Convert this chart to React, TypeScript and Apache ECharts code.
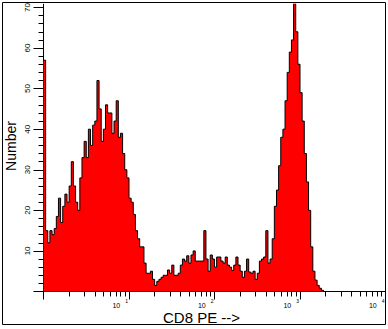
import React, { useEffect, useRef } from 'react';
import * as echarts from 'echarts';

// Histogram: 40 channels per decade over 10^0 .. 10^4 (160 channels)
const CHANNELS_PER_DECADE = 40;
const counts: number[] = [
  57, 15, 12, 15, 14, 15.5, 18.5, 23, 17, 21,
  24, 22, 26, 32, 26, 22, 20, 28, 33, 37,
  33, 40, 36, 41, 42, 52, 45, 37, 40, 46,
  44, 44, 39, 42, 47, 38, 39, 34, 30, 28,
  23, 22, 19, 15, 13, 11, 11, 7, 4.5, 4.5,
  5, 3, 1.5, 2.5, 3, 3.5, 4, 4, 5.3, 4.5,
  6.5, 4, 4, 4.5, 6.5, 8, 7.5, 8.8, 7, 9,
  10, 7.5, 7.5, 7.5, 7.5, 15, 8, 5, 9, 8,
  6, 8.5, 8.5, 7.5, 7, 8.5, 6.5, 6, 5.2, 6.5,
  8.5, 6.5, 5, 3.5, 5, 8, 4.8, 4.5, 5, 3,
  4.5, 7.5, 8, 8.5, 15, 7, 8, 13, 21, 25,
  31, 38, 40, 47, 54, 59, 62, 71, 64, 56,
  49, 42, 34, 27, 20, 11, 5, 2.8, 1.5, 0.8,
  0.3, 0, 0, 0, 0, 0, 0, 0, 0, 0,
  0, 0, 0, 0, 0, 0, 0, 0, 0, 0,
  0, 0, 0, 0, 0, 0, 0, 0, 0, 0,
];

const yMajorTicks = [0, 10, 20, 30, 40, 50, 60, 70];
const yLabelTicks = [10, 20, 30, 40, 50, 60, 70];
const yMinorTicks = [2, 4, 6, 8, 12, 14, 16, 18, 22, 24, 26, 28, 32, 34, 36, 38, 42, 44, 46, 48, 52, 54, 56, 58, 62, 64, 66, 68];
const xMajorTicks = [1, 10, 100, 1000, 10000];
const xLabelTicks = [10, 100, 1000, 10000];
const xMinorTicks = [
  2, 3, 4, 5, 6, 7, 8, 9,
  20, 30, 40, 50, 60, 70, 80, 90,
  200, 300, 400, 500, 600, 700, 800, 900,
  2000, 3000, 4000, 5000, 6000, 7000, 8000, 9000,
];

const FONT = "'Liberation Sans', Arial, sans-serif";

export default function App() {
  const ref = useRef<HTMLDivElement>(null);
  useEffect(() => {
    if (!ref.current) return;
    const chart = echarts.init(ref.current, undefined, { renderer: 'svg' });
    const data: [number, number][] = counts.map((c, i) => [Math.pow(10, i / CHANNELS_PER_DECADE), c]);
    data.push([Math.pow(10, counts.length / CHANNELS_PER_DECADE), 0]);
    const axisLineStyle = { color: '#000', width: 1 };
    chart.setOption({
      animation: false,
      backgroundColor: '#fff',
      grid: { left: 43.5, right: 2.5, top: 2.5, bottom: 37.5, containLabel: false },
      xAxis: [
        {
          type: 'log', logBase: 10, min: 1, max: 10000, position: 'bottom',
          axisLine: { show: true, lineStyle: axisLineStyle },
          axisTick: { show: true, customValues: xMajorTicks, length: 8, lineStyle: axisLineStyle },
          axisLabel: {
            show: true, customValues: xLabelTicks, margin: 7, align: 'right',
            formatter: (v: number) => `{a|10}{b|${Math.round(Math.log10(v))}}`,
            rich: {
              a: { fontSize: 7, fontFamily: FONT, color: '#000', lineHeight: 10, verticalAlign: 'bottom' },
              b: { fontSize: 5, fontFamily: FONT, color: '#000', padding: [0, 1, 2, 5], verticalAlign: 'top' },
            },
          },
          splitLine: { show: false },
        },
        {
          type: 'log', logBase: 10, min: 1, max: 10000, position: 'bottom',
          axisLine: { show: false },
          axisTick: { show: true, customValues: xMinorTicks, length: 5, lineStyle: axisLineStyle },
          axisLabel: { show: false },
          splitLine: { show: false },
        },
      ],
      yAxis: [
        {
          type: 'value', min: 0, max: 70.8, position: 'left',
          axisLine: { show: true, lineStyle: axisLineStyle },
          axisTick: { show: true, customValues: yMajorTicks, length: 10, lineStyle: axisLineStyle },
          axisLabel: {
            show: true, customValues: yLabelTicks, rotate: 90, margin: 12,
            fontSize: 8, fontFamily: FONT, color: '#000',
          },
          splitLine: { show: false },
        },
        {
          type: 'value', min: 0, max: 70.8, position: 'left',
          axisLine: { show: false },
          axisTick: { show: true, customValues: yMinorTicks, length: 5, lineStyle: axisLineStyle },
          axisLabel: { show: false },
          splitLine: { show: false },
        },
      ],
      series: [
        {
          type: 'line', step: 'end', data, symbol: 'none', xAxisIndex: 0, yAxisIndex: 0,
          lineStyle: { color: '#000', width: 1 },
          itemStyle: { color: '#000' },
          areaStyle: { color: '#ff0000', opacity: 1 },
        },
      ],
      graphic: [
        {
          type: 'rect', silent: true, z: 100,
          shape: { x: 2.5, y: 2.5, width: 383, height: 322 },
          style: { fill: 'none', stroke: '#000', lineWidth: 1 },
        },
        {
          type: 'text', x: 11, y: 146, rotation: Math.PI / 2,
          style: { text: 'Number', fontSize: 14, fontFamily: FONT, fill: '#000', align: 'center', verticalAlign: 'middle' },
        },
        {
          type: 'text', x: 163, y: 317,
          style: { text: 'CD8 PE -->', fontSize: 15, fontFamily: FONT, fill: '#000', align: 'left', verticalAlign: 'middle' },
        },
      ],
    });
    return () => chart.dispose();
  }, []);
  return <div ref={ref} style={{ position: 'absolute', left: 0, top: 0, width: 388, height: 329, background: '#fff' }} />;
}
